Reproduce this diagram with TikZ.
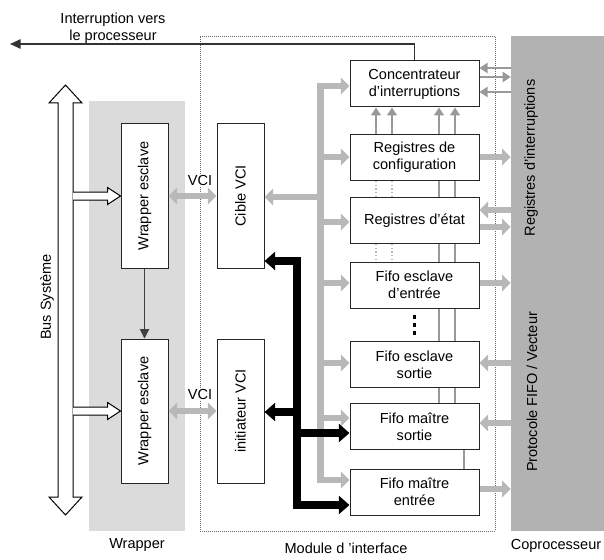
\documentclass[tikz,border=0pt]{standalone}
\usepackage{fontspec}
\setmainfont{Liberation Sans}
\usepackage{graphicx}
\usetikzlibrary{arrows.meta,calc}
\definecolor{busgray}{gray}{0.72}
\definecolor{copgray}{gray}{0.70}
\definecolor{wrapgray}{gray}{0.86}
\definecolor{linegray}{gray}{0.60}
\begin{document}
\begin{tikzpicture}[x=0.75pt,y=-0.75pt,
  every node/.style={font=\fontsize{10.9}{12.75}\selectfont, inner sep=0pt},
  hbox/.style={draw=black!85, line width=0.75pt, fill=white,
    minimum width=96.75pt, minimum height=34.5pt, align=center},
  vbox/.style={draw=black!85, line width=0.75pt, fill=white,
    minimum width=35.25pt, minimum height=108pt},
  gbus/.style={draw=busgray, line width=4.8pt, line join=miter},
  kbus/.style={draw=black, line width=5.4pt, line join=miter},
  gtip/.style={-{Triangle[length=6.5pt,width=12.5pt]}},
  gtips/.style={{Triangle[length=6.5pt,width=12.5pt]}-{Triangle[length=6.5pt,width=12.5pt]}},
  ktip/.style={-{Triangle[length=8pt,width=13.5pt]}},
  ktips/.style={{Triangle[length=8pt,width=13.5pt]}-{Triangle[length=8pt,width=13.5pt]}},
  thin/.style={draw=linegray, line width=1.5pt, -{Triangle[length=6pt,width=7.5pt]}},
  vline/.style={draw=linegray, line width=0.9pt},
  vdot/.style={draw=linegray!70, line width=0.8pt, dotted},
  hollow/.style={draw=black, line width=0.75pt, fill=white, line join=miter},
  lbl/.style={fill=white, inner sep=1pt}]
\useasboundingbox (0,0) rectangle (604,560);

% background areas
\node[fill=wrapgray, minimum width=72pt, minimum height=322.5pt] (wrap) at (137,316) {};
\node[draw=black!60, line width=0.5pt, densely dotted, minimum width=221.25pt, minimum height=371.25pt] (mod) at (347.5,283.5) {};
\node[fill=copgray, minimum width=69.75pt, minimum height=371.25pt] (cop) at (557.5,283.5) {};

% bottom captions
\node (wrapcap) at (137,545) {Wrapper};
\node (modcap) at (346,548) {Module d ’interface};
\node (copcap) at (556,546) {Coprocesseur};

% coprocessor side labels
\node[rotate=90] (regint) at (531,158) {Registres d’interruptions};
\node[rotate=90] (proto) at (532,392) {Protocole FIFO / Vecteur};

% system bus
\draw[hollow] (58,497) -- (58,103) -- (49,103) -- (65.5,85) -- (82,103) -- (73,103)
  -- (73,497) -- (82,497) -- (65.5,515) -- (49,497) -- cycle;
\node[rotate=90] (buslbl) at (47,297) {Bus Système};

% wrapper blocks
\node[vbox] (ws1) at (144.5,196) {\rotatebox{90}{Wrapper esclave}};
\node[vbox] (ws2) at (144.5,411) {\rotatebox{90}{Wrapper esclave}};
\coordinate (b1) at (73,196);
\coordinate (b2) at (73,411);
\draw[hollow] ($(b1)+(0,-4)$) -- ($(ws1.west)+(-13,-4)$) -- ($(ws1.west)+(-13,-8.5)$)
  -- (ws1.west) -- ($(ws1.west)+(-13,8.5)$) -- ($(ws1.west)+(-13,4)$) -- ($(b1)+(0,4)$);
\draw[hollow] ($(b2)+(0,-4)$) -- ($(ws2.west)+(-13,-4)$) -- ($(ws2.west)+(-13,-8.5)$)
  -- (ws2.west) -- ($(ws2.west)+(-13,8.5)$) -- ($(ws2.west)+(-13,4)$) -- ($(b2)+(0,4)$);
\draw[draw=black!75, line width=0.8pt, -{Triangle[length=7pt,width=7pt]}] (ws1.south) -- (ws2.north);

% VCI side
\node[vbox] (cible) at (240.5,196) {\rotatebox{90}{Cible VCI}};
\node[vbox] (init) at (240.5,411) {\rotatebox{90}{initiateur VCI}};
\node[lbl] (vci1) at (200,180) {VCI};
\node[lbl] (vci2) at (200,394) {VCI};
\draw[gbus, gtips] (ws1.east) -- (cible.west);
\draw[gbus, gtips] (ws2.east) -- (init.west);

% register and FIFO blocks
\node[hbox] (cc) at (414.5,84) {Concentrateur\\d’interruptions};
\node[hbox] (cfg) at (414.5,157.5) {Registres de\\configuration};
\node[hbox] (etat) at (414.5,220.5) {Registres d’état};
\node[hbox] (fee) at (414.5,285) {Fifo esclave\\d’entrée};
\node[hbox] (fes) at (414.5,364.5) {Fifo esclave\\sortie};
\node[hbox] (fms) at (414.5,426.5) {Fifo maître\\sortie};
\node[hbox] (fme) at (414.5,492) {Fifo maître\\entrée};

% continuation dots
\fill (414.5,317) ++(-1.6,-1.6) rectangle ++(3.2,3.2);
\fill (414.5,325) ++(-1.6,-1.6) rectangle ++(3.2,3.2);
\fill (414.5,333) ++(-1.6,-1.6) rectangle ++(3.2,3.2);

% interrupt lines between blocks
\foreach \x in {376,392,439,455}
  \draw[thin, line width=0.9pt] (cfg.north -| \x,0) -- (cc.south -| \x,0);
\foreach \x in {376,392} {
  \draw[vdot] (cfg.south -| \x,0) -- (etat.north -| \x,0);
  \draw[vdot] (etat.south -| \x,0) -- (fee.north -| \x,0);
}
\foreach \x in {439,455} {
  \draw[vline] (cfg.south -| \x,0) -- (etat.north -| \x,0);
  \draw[vline] (etat.south -| \x,0) -- (fee.north -| \x,0);
  \draw[vline] (fee.south -| \x,0) -- (fes.north -| \x,0);
  \draw[vline] (fes.south -| \x,0) -- (fms.north -| \x,0);
}
\draw[vline] (fms.south -| 464,0) -- (fme.north -| 464,0);

% interrupt output to the processor
\coordinate (irq) at (10,44);
\draw[draw=black!80, line width=1.3pt, -{Triangle[length=8pt,width=7pt]}] (cc.north) |- (irq);
\node (irqlbl) at (113,28.5) [align=center] {Interruption vers\\le processeur};

% internal gray bus
\draw[gbus, gtips] (cc.west |- 0,86) -- (320.5,86) -- (320.5,480) -- (fme.west |- 0,480);
\draw[gbus, gtip] (320.5,157) -- (cfg.west |- 0,157);
\draw[gbus, gtip] (320.5,222) -- (etat.west |- 0,222);
\draw[gbus, gtip] (320.5,283) -- (fee.west |- 0,283);
\draw[gbus, gtip] (320.5,363) -- (fes.west |- 0,363);
\draw[gbus, gtip] (320.5,418) -- (fms.west |- 0,418);
\draw[gbus, gtip] (320.5,197) -- (cible.east |- 0,197);

% master bus
\draw[kbus, ktips] (cible.east |- 0,261) -- (297,261) -- (297,505) -- (fme.west |- 0,505);
\draw[kbus, ktip] (297,412) -- (init.east |- 0,412);
\draw[kbus, ktip] (297,433) -- (fms.west |- 0,433);

% links to the coprocessor
\draw[thin] (cop.west |- 0,68) -- (cc.east |- 0,68);
\draw[thin] (cc.east |- 0,77) -- (cop.west |- 0,77);
\draw[thin] (cop.west |- 0,92) -- (cc.east |- 0,92);
\draw[gbus, gtip] (cfg.east |- 0,157) -- (cop.west |- 0,157);
\draw[gbus, gtip] (cop.west |- 0,210) -- (etat.east |- 0,210);
\draw[gbus, gtip] (etat.east |- 0,227) -- (cop.west |- 0,227);
\draw[gbus, gtip] (fee.east |- 0,283) -- (cop.west |- 0,283);
\draw[gbus, gtip] (cop.west |- 0,363) -- (fes.east |- 0,363);
\draw[gbus, gtip] (cop.west |- 0,423) -- (fms.east |- 0,423);
\draw[gbus, gtip] (fme.east |- 0,489) -- (cop.west |- 0,489);
\end{tikzpicture}
\end{document}
